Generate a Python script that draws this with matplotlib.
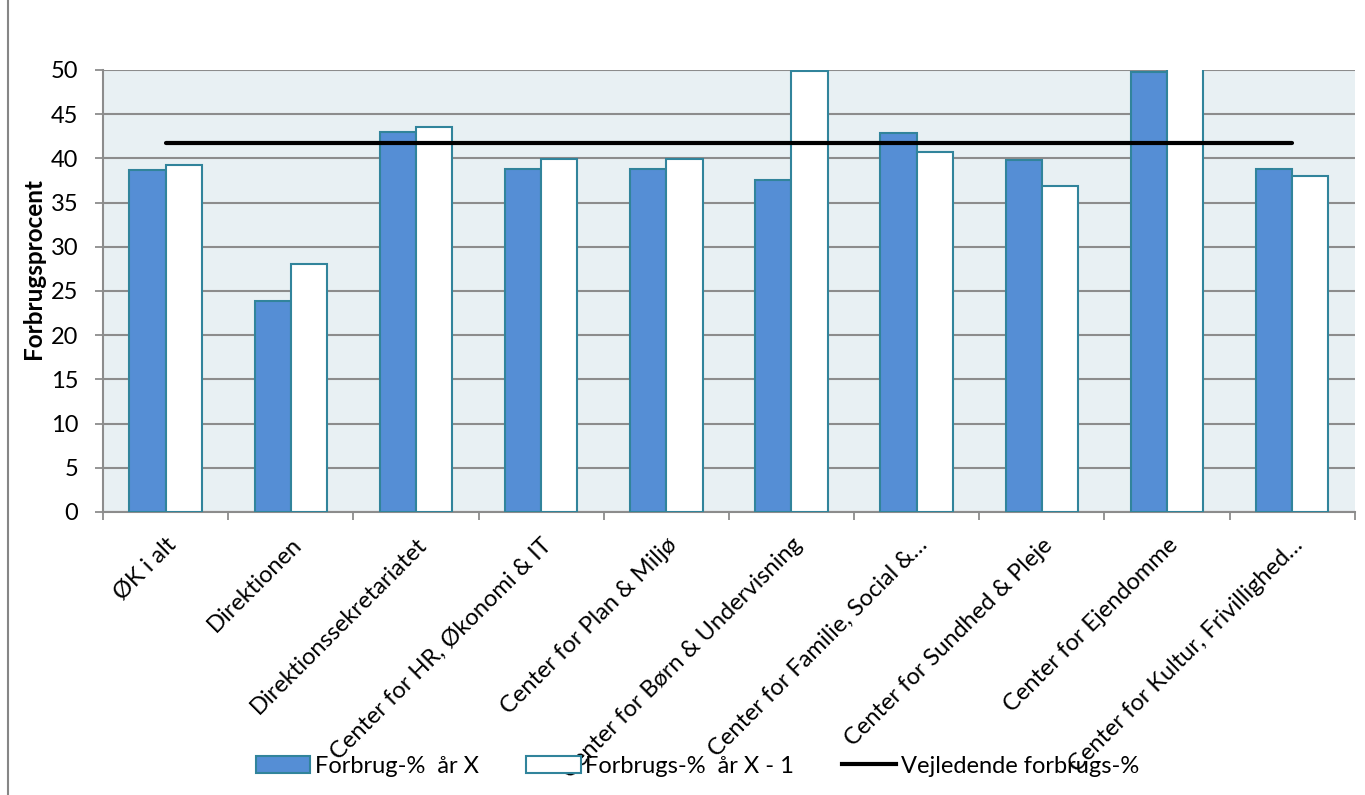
import numpy as np
import matplotlib.pyplot as plt
from matplotlib.lines import Line2D
from matplotlib.patches import Patch

plt.rcParams['font.family'] = ['Lato', 'DejaVu Sans']

categories = ['ØK i alt', 'Direktionen', 'Direktionssekretariatet',
              'Center for HR, Økonomi & IT', 'Center for Plan & Miljø',
              'Center for Børn & Undervisning', 'Center for Familie, Social &…',
              'Center for Sundhed & Pleje', 'Center for Ejendomme',
              'Center for Kultur, Frivillighed…']
forbrug_x = [38.7, 23.9, 43.0, 38.8, 38.8, 37.5, 42.9, 39.8, 49.8, 38.8]
forbrug_x1 = [39.2, 28.0, 43.5, 39.9, 39.9, 49.9, 40.7, 36.9, 52.0, 38.0]
vejledende = [41.7] * len(categories)

blue = '#558ED5'
edge = '#31849B'
grid_grey = '#8C8C8C'

fig = plt.figure(figsize=(13.65, 7.95), dpi=100)
ax = fig.add_axes([0.0755, 0.356, 0.917, 0.556])
ax.set_facecolor('#E8F0F3')

x = np.arange(len(categories))
w = 0.29
ax.bar(x - w / 2, forbrug_x, w, color=blue, edgecolor=edge, linewidth=1.5, zorder=3)
ax.bar(x + w / 2, forbrug_x1, w, color='white', edgecolor=edge, linewidth=1.5, zorder=3)
ax.plot(x, vejledende, color='black', linewidth=3, solid_capstyle='round', zorder=4)

ax.set_xlim(-0.5, len(categories) - 0.5)
ax.set_ylim(0, 50)
ax.set_yticks(np.arange(0, 51, 5))
ax.yaxis.grid(True, color=grid_grey, linewidth=1.5, zorder=0)
ax.set_axisbelow(True)

# labels at centers, tick marks at the category boundaries
ax.set_xticks(x)
ax.set_xticklabels(categories, rotation=45, ha='right', rotation_mode='anchor', fontsize=17)
ax.set_xticks(np.arange(-0.5, len(categories)), minor=True)
ax.tick_params(axis='x', which='major', length=0, pad=16)
ax.tick_params(axis='x', which='minor', length=6, width=1.3, color=grid_grey, direction='out')
ax.tick_params(axis='y', length=6, width=1.3, color=grid_grey, labelsize=17, pad=12)

for s in ['top', 'right']:
    ax.spines[s].set_visible(False)
for s in ['left', 'bottom']:
    ax.spines[s].set_color(grid_grey)
    ax.spines[s].set_linewidth(1.5)

ax.set_ylabel('Forbrugsprocent', fontsize=17.5, fontweight='bold')
ax.yaxis.set_label_coords(-0.046, 0.55)

handles = [Patch(facecolor=blue, edgecolor=edge, linewidth=1.5),
           Patch(facecolor='white', edgecolor=edge, linewidth=1.5),
           Line2D([0], [0], color='black', linewidth=3)]
labels = ['Forbrug-%  år X', 'Forbrugs-%  år X - 1', 'Vejledende forbrugs-%']
fig.legend(handles, labels, loc='center', bbox_to_anchor=(0.511, 0.036), ncol=3,
           frameon=False, fontsize=17, handlelength=2.3, handleheight=0.75,
           handletextpad=0.2, columnspacing=2.0)

# outer frame line on the left
fig.add_artist(Line2D([0.006, 0.006], [0, 1], color='#868686', linewidth=1.5,
                      transform=fig.transFigure))

fig.savefig('out.png', dpi=100)
